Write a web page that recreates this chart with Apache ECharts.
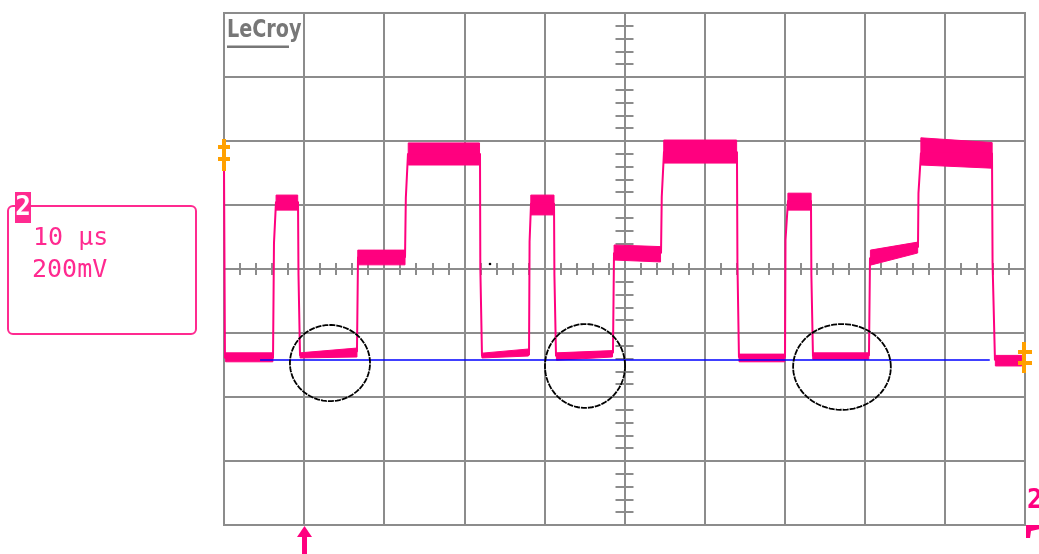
<!DOCTYPE html>
<html>
<head>
<meta charset="utf-8">
<script src="https://cdn.jsdelivr.net/npm/echarts@6/dist/echarts.min.js"></script>
<style>html,body{margin:0;padding:0;background:#fff;}#c{width:1039px;height:554px;}</style>
</head>
<body>
<div id="c"></div>
<script>
// time in µs relative to screen centre (10 µs/div), voltage in mV (200 mV/div)
const traceTime = [-50, -49.88, -43.88, -43.76, -43.51, -40.76, -40.7, -40.51, -33.4, -33.27, -27.4, -27.3, -27.03, -18.04, -18.0, -17.79, -11.92, -11.85, -11.67, -8.8, -8.75, -8.55, -1.44, -1.31, 4.56, 4.65, 4.93, 14.04, 14.1, 14.29, 20.04, 20.1, 20.41, 23.28, 23.33, 23.53, 30.52, 30.65, 36.64, 36.7, 37.01, 45.88, 45.95, 46.25, 49.63];
const traceVolt = [322, -278, -278, 81, 209, 209, -19, -270, -258, 37, 37, 222, 360, 360, 6, -272, -268, 85, 205, 205, -19, -272, -262, 50, 50, 225, 366, 366, 19, -276, -276, 91, 213, 213, -19, -272, -270, 34, 69, 237, 362, 362, 19, -284, -282];
// noise envelope of each plateau: start/end time, low/high volt at start, low/high volt at end
const bandStart = [-49.8, -43.5, -40.5, -33.3, -27.0, -17.8, -11.7, -8.5, -1.3, 4.9, 14.3, 20.4, 23.5, 30.7, 37.0, 46.3];
const bandEnd   = [-43.9, -40.8, -33.4, -27.4, -18.1, -12.0, -8.8, -1.5, 4.5, 14.0, 20.0, 23.3, 30.5, 36.6, 45.9, 49.6];
const bandLow0  = [-290, 184, -278, 13, 325, -278, 169, -285, 28, 331, -290, 184, -282, 12, 325, -303];
const bandHigh0 = [-262, 231, -262, 59, 394, -263, 231, -262, 75, 403, -266, 237, -262, 59, 410, -270];
const bandLow1  = [-290, 184, -275, 13, 325, -272, 169, -275, 22, 331, -290, 184, -282, 50, 315, -303];
const bandHigh1 = [-262, 231, -247, 59, 394, -250, 231, -255, 70, 403, -266, 237, -262, 84, 395, -270];
// reference (blue) line
const refTime = [-45.5, 45.6];
const refVolt = [-284, -284];
// circled regions: centre time, centre volt, radius (µs), radius (mV)
const circT = [-36.77, -4.93, 27.15];
const circV = [-294, -303, -306];
const circRT = [5.0, 5.0, 6.1];
const circRV = [119, 131, 134];

const PINK = '#ff007f';
const PINK2 = '#ff2a90';
const GRIDC = '#8c8c8c';
const ORANGE = '#ffa000';

const trace = traceTime.map((t, i) => [t, traceVolt[i]]);
const bands = bandStart.map((s, i) => [s, bandEnd[i], bandLow0[i], bandHigh0[i], bandLow1[i], bandHigh1[i]]);
const refLine = refTime.map((t, i) => [t, refVolt[i]]);
const circles = circT.map((t, i) => [t, circV[i], circRT[i], circRV[i]]);

const chart = echarts.init(document.getElementById('c'), null, {renderer: 'canvas'});
const hidden = {axisLabel: {show: false}, splitLine: {show: false}};
const option = {
  animation: false,
  grid: {left: 224, right: 14, top: 13, bottom: 29, show: true, borderColor: GRIDC, borderWidth: 2},
  xAxis: [
    {type: 'value', min: -50, max: 50, interval: 10, axisLine: {show: false}, axisTick: {show: false}, axisLabel: {show: false},
     splitLine: {show: true, lineStyle: {color: GRIDC, width: 2}}},
    Object.assign({type: 'value', min: -50, max: 50, interval: 2, position: 'bottom',
     axisLine: {show: true, onZero: true, lineStyle: {color: GRIDC, width: 2}},
     axisTick: {show: true, inside: false, length: 6, lineStyle: {color: GRIDC, width: 2}}}, hidden),
    Object.assign({type: 'value', min: -50, max: 50, interval: 2, position: 'bottom',
     axisLine: {show: true, onZero: true, lineStyle: {color: GRIDC, width: 2}},
     axisTick: {show: true, inside: true, length: 6, lineStyle: {color: GRIDC, width: 2}}}, hidden)
  ],
  yAxis: [
    {type: 'value', min: -800, max: 800, interval: 200, axisLine: {show: false}, axisTick: {show: false}, axisLabel: {show: false},
     splitLine: {show: true, lineStyle: {color: GRIDC, width: 2}}},
    Object.assign({type: 'value', min: -800, max: 800, interval: 40, position: 'left',
     axisLine: {show: true, onZero: true, lineStyle: {color: GRIDC, width: 2}},
     axisTick: {show: true, inside: false, length: 9, lineStyle: {color: GRIDC, width: 2}}}, hidden),
    Object.assign({type: 'value', min: -800, max: 800, interval: 40, position: 'left',
     axisLine: {show: true, onZero: true, lineStyle: {color: GRIDC, width: 2}},
     axisTick: {show: true, inside: true, length: 9, lineStyle: {color: GRIDC, width: 2}}}, hidden)
  ],
  series: [
    {type: 'custom', z: 2, data: bands, encode: {x: [0, 1], y: [2, 3, 4, 5]},
     renderItem: function (params, api) {
       const t0 = api.value(0), t1 = api.value(1);
       const pts = [
         api.coord([t0, api.value(3)]), api.coord([t1, api.value(5)]),
         api.coord([t1, api.value(4)]), api.coord([t0, api.value(2)])
       ];
       return {type: 'polygon', shape: {points: pts}, style: {fill: PINK, stroke: PINK, lineWidth: 1}};
     }},
    {type: 'line', z: 3, data: trace, showSymbol: false, symbol: 'none', lineStyle: {color: PINK, width: 2}},
    {type: 'line', z: 4, data: refLine, showSymbol: false, symbol: 'none', lineStyle: {color: '#0000ff', width: 1.5}},
    {type: 'custom', z: 5, data: circles, encode: {x: 0, y: 1},
     renderItem: function (params, api) {
       const cx = api.value(0), cy = api.value(1), rx = api.value(2), ry = api.value(3);
       const pts = [];
       for (let k = 0; k < 90; k++) {
         const a = k / 90 * Math.PI * 2;
         pts.push(api.coord([cx + rx * Math.cos(a), cy + ry * Math.sin(a)]));
       }
       return {type: 'polygon', shape: {points: pts}, style: {fill: 'none', stroke: '#000', lineWidth: 1.8, lineDash: [6, 1]}};
     }}
  ],
  graphic: [
    {type: 'text', x: 227, y: 31, scaleX: 0.8, style: {text: 'LeCroy', font: 'bold 24px "DejaVu Sans"', fill: '#777', verticalAlign: 'middle'}, z: 10},
    {type: 'rect', shape: {x: 227, y: 45.5, width: 62, height: 2.5}, style: {fill: '#777'}, z: 10},
    // channel box
    {type: 'rect', shape: {x: 8, y: 206, width: 188, height: 128, r: 5}, style: {fill: 'none', stroke: PINK2, lineWidth: 2}},
    {type: 'rect', shape: {x: 15, y: 192, width: 16, height: 31}, style: {fill: PINK2}},
    {type: 'text', x: 23, y: 208, style: {text: '2', font: 'bold 26px "DejaVu Sans Mono"', fill: '#fff', align: 'center', verticalAlign: 'middle'}},
    {type: 'text', x: 33, y: 238, style: {text: '10 µs', font: '25px "DejaVu Sans Mono"', fill: PINK2, verticalAlign: 'middle'}},
    {type: 'text', x: 32, y: 270, style: {text: '200mV', font: '25px "DejaVu Sans Mono"', fill: PINK2, verticalAlign: 'middle'}},
    // orange markers
    {type: 'rect', shape: {x: 222, y: 139, width: 4, height: 32}, style: {fill: ORANGE}, z: 10},
    {type: 'rect', shape: {x: 218, y: 145, width: 12, height: 4}, style: {fill: ORANGE}, z: 10},
    {type: 'rect', shape: {x: 218, y: 157, width: 12, height: 4}, style: {fill: ORANGE}, z: 10},
    {type: 'rect', shape: {x: 1022, y: 342, width: 4, height: 31}, style: {fill: ORANGE}, z: 10},
    {type: 'rect', shape: {x: 1018, y: 350, width: 14, height: 4}, style: {fill: ORANGE}, z: 10},
    {type: 'rect', shape: {x: 1018, y: 361, width: 14, height: 4}, style: {fill: ORANGE}, z: 10},
    // trigger arrow
    {type: 'polygon', shape: {points: [[297, 537], [304.5, 526], [312, 537]]}, style: {fill: PINK}},
    {type: 'rect', shape: {x: 302, y: 535, width: 5, height: 19}, style: {fill: PINK}},
    // bottom-right channel label
    {type: 'text', x: 1027, y: 501, style: {text: '2', font: 'bold 26px "DejaVu Sans Mono"', fill: PINK, verticalAlign: 'middle'}},
    {type: 'polygon', shape: {points: [[1026, 525], [1040, 525], [1040, 529], [1031, 531], [1030, 538], [1026, 538]]}, style: {fill: PINK}},
    {type: 'circle', shape: {cx: 490, cy: 264, r: 1.3}, style: {fill: '#000'}}
  ]
};
chart.setOption(option);
</script>
</body>
</html>
